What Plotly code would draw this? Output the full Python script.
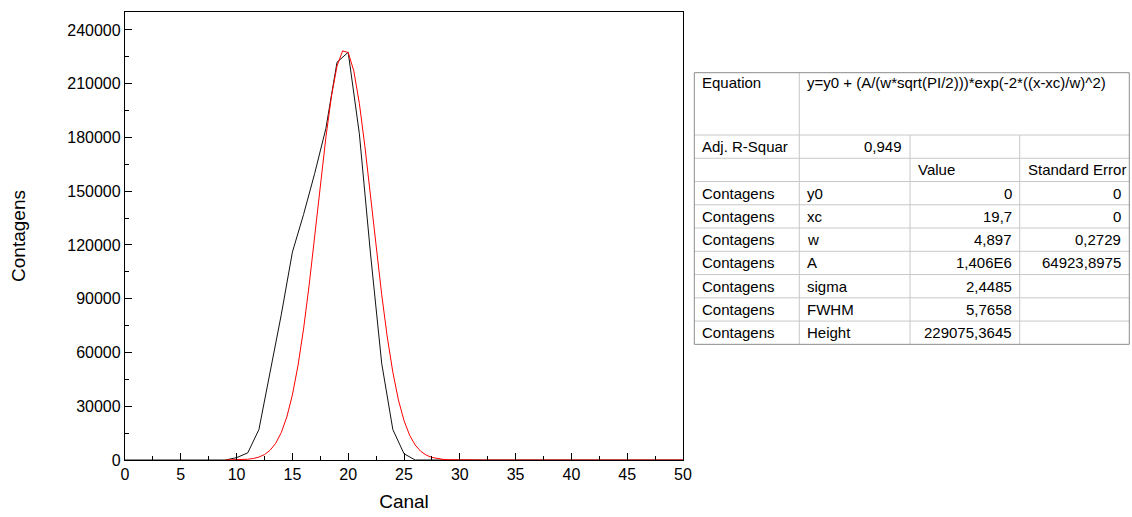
import plotly.graph_objects as go

# ---------------- data ----------------
channels = list(range(0, 51))
counts = [0, 0, 0, 0, 0, 0, 0, 0, 0, 0,
          1300, 4000, 17000, 48000, 81000, 116000, 137000, 160000, 185000, 222000,
          227500, 182000, 115000, 54000, 17000, 3500, 0, 0, 0, 0,
          0, 0, 0, 0, 0, 0, 0, 0, 0, 0,
          0, 0, 0, 0, 0, 0, 0, 0, 0, 0, 0]

fit_x = [9, 9.5, 10, 10.5, 11, 11.5, 12, 12.5, 13, 13.5, 14, 14.5, 15, 15.5, 16, 16.5,
         17, 17.5, 18, 18.5, 19, 19.5, 20, 20.5, 21, 21.5, 22, 22.5, 23, 23.5, 24, 24.5,
         25, 25.5, 26, 26.5, 27, 27.5, 28, 28.5, 29, 29.5, 30, 31, 32, 35, 40, 45, 50]
fit_y = [16, 39, 89, 197, 415, 841, 1631, 3038, 5420, 9282, 15245, 24030, 36310, 52620,
         73120, 97520, 124700, 153000, 180000, 203100, 219900, 228300, 227400, 217200,
         199000, 174800, 147400, 119100, 92360, 68700, 49000, 33540, 21990, 13840, 8370,
         4845, 2692, 1434, 733, 359, 169, 76, 33, 5, 1, 0, 0, 0, 0]

x_ticks = [0, 5, 10, 15, 20, 25, 30, 35, 40, 45, 50]
y_ticks = [0, 30000, 60000, 90000, 120000, 150000, 180000, 210000, 240000]

eq_label = "Equation"
eq_text = "y=y0 + (A/(w*sqrt(PI/2)))*exp(-2*((x-xc)/w)^2)"
r2_label = "Adj. R-Squar"
r2_value = "0,949"
header = ["", "", "Value", "Standard Error"]
row_names = ["Contagens"] * 7
params = ["y0", "xc", "w", "A", "sigma", "FWHM", "Height"]
values = ["0", "19,7", "4,897", "1,406E6", "2,4485", "5,7658", "229075,3645"]
errors = ["0", "0", "0,2729", "64923,8975", "", "", ""]

# ---------------- figure ----------------
W, H = 1132, 517
L, R, T, B = 125, 683, 12, 460
FONT = "Arial, Liberation Sans, sans-serif"

fig = go.Figure()
fig.add_trace(go.Scatter(x=channels, y=counts, mode="lines",
                         line=dict(color="#111111", width=1), showlegend=False))
fig.add_trace(go.Scatter(x=fit_x, y=fit_y, mode="lines",
                         line=dict(color="#ff0000", width=1), showlegend=False))

axis_common = dict(showline=True, linecolor="#000000", linewidth=1.3, mirror=True,
                   ticks="inside", ticklen=7, tickwidth=1.3, tickcolor="#000000",
                   showgrid=False, zeroline=False, automargin=False,
                   tickfont=dict(family=FONT, size=16, color="#000000"))

fig.update_xaxes(range=[0, 50], tickvals=x_ticks,
                 minor=dict(ticks="inside", ticklen=4, dtick=2.5, tick0=0,
                            tickcolor="#000000", tickwidth=1.3),
                 title=dict(text="Canal", font=dict(family=FONT, size=19, color="#000000"),
                            standoff=12),
                 **axis_common)
fig.update_yaxes(range=[0, 250000], tickvals=y_ticks, tickformat="d",
                 minor=dict(ticks="inside", ticklen=4, dtick=15000, tick0=0,
                            tickcolor="#000000", tickwidth=1.3),
                 title=dict(text="Contagens", font=dict(family=FONT, size=19, color="#000000"),
                            standoff=36),
                 **axis_common)


def px_x(px):
    return (px - L) / (R - L)


def px_y(py):
    return (B - py) / (B - T)


shapes = []
annotations = []

cols = [694.3, 799.3, 910, 1019.7, 1129.3]
top = 72.7
eq_bottom = 135
row_h = 23.26
n_rows = 9
rows = [eq_bottom + i * row_h for i in range(n_rows + 1)]
bottom = rows[-1]

inner = "#c8c8c8"
outer = "#8c8c8c"


def line(x0, y0, x1, y1, color):
    shapes.append(dict(type="line", xref="paper", yref="paper",
                       x0=px_x(x0), y0=px_y(y0), x1=px_x(x1), y1=px_y(y1),
                       line=dict(color=color, width=1)))


# horizontal inner lines
for ry in rows[:-1]:
    line(cols[0], ry, cols[-1], ry, inner)
# vertical inner lines
line(cols[1], top, cols[1], bottom, inner)
line(cols[2], eq_bottom, cols[2], bottom, inner)
line(cols[3], eq_bottom, cols[3], bottom, inner)
# outer border
line(cols[0], top, cols[-1], top, outer)
line(cols[0], bottom, cols[-1], bottom, outer)
line(cols[0], top, cols[0], bottom, outer)
line(cols[-1], top, cols[-1], bottom, outer)


def text(s, px, py, align):
    if not s:
        return
    annotations.append(dict(text=s, xref="paper", yref="paper",
                            x=px_x(px), y=px_y(py), showarrow=False,
                            xanchor=align, yanchor="middle",
                            font=dict(family=FONT, size=15, color="#000000")))


pad = 6
# Equation row
text(eq_label, cols[0] + pad, 82, "left")
text(eq_text, cols[1] + pad, 82, "left")
# Adj R row
cy = (rows[0] + rows[1]) / 2
text(r2_label, cols[0] + pad, cy, "left")
text(r2_value, cols[2] - pad, cy, "right")
# header
cy = (rows[1] + rows[2]) / 2
for i, h in enumerate(header):
    text(h, cols[i] + pad, cy, "left")
# parameter rows
for i in range(len(params)):
    cy = (rows[2 + i] + rows[3 + i]) / 2
    text(row_names[i], cols[0] + pad, cy, "left")
    text(params[i], cols[1] + pad, cy, "left")
    text(values[i], cols[3] - pad, cy, "right")
    text(errors[i], cols[4] - pad, cy, "right")

fig.update_layout(width=W, height=H,
                  margin=dict(l=L, r=W - R, t=T, b=H - B, autoexpand=False),
                  paper_bgcolor="#ffffff", plot_bgcolor="#ffffff",
                  shapes=shapes, annotations=annotations,
                  font=dict(family=FONT))

fig.write_html("out.html", config={"displayModeBar": False},
               post_script="document.body.style.margin='0';document.body.style.overflow='hidden';")
